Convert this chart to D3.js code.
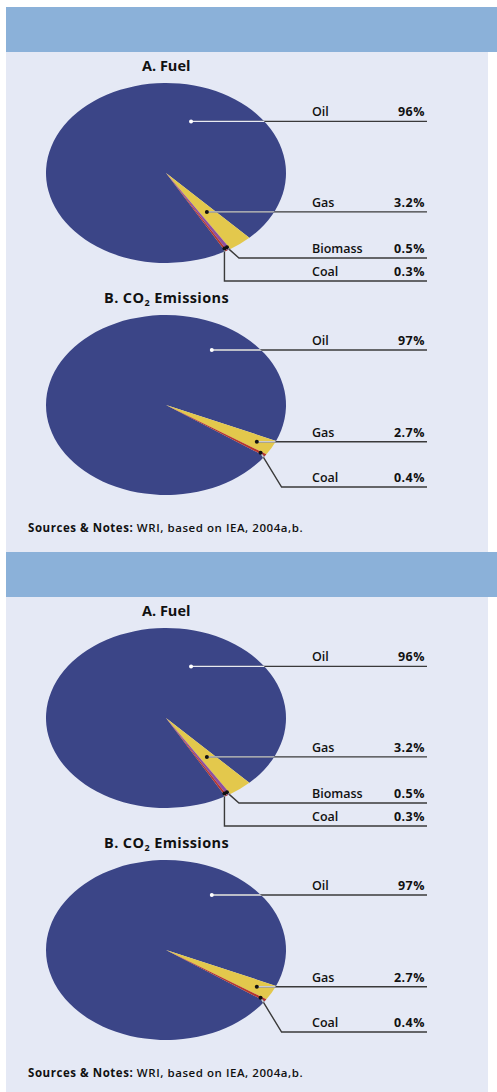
<!DOCTYPE html>
<html>
<head>
<meta charset="utf-8">
<script src="https://cdn.jsdelivr.net/npm/d3@7"></script>
<style>
  body { margin: 0; background: #fff; }
  svg { display: block; font-family: "Open Sans", "Noto Sans", sans-serif; }
</style>
</head>
<body>
<div id="chart"></div>
<script>
// data
const fuelLabels = ['Oil', 'Gas', 'Biomass', 'Coal'];
const fuelShares = [96, 3.2, 0.5, 0.3];
const fuelText = ['96%', '3.2%', '0.5%', '0.3%'];

const co2Labels = ['Oil', 'Gas', 'Coal'];
const co2Shares = [97, 2.7, 0.4];
const co2Text = ['97%', '2.7%', '0.4%'];

const sliceColors = { Oil: '#3b4587', Gas: '#e3c84c', Biomass: '#8e4f9e', Coal: '#b4352c' };

const W = 497, H = 1092;
const panelOffsets = [0, 545];
const deg = Math.PI / 180;

const svg = d3.select('#chart').append('svg')
    .attr('width', W)
    .attr('height', H);

const rx = 120, ry = 90;
const arc = d3.arc().innerRadius(0).outerRadius(rx);

// pie layouts (position / leader settings, not data)
const pies = [
    {
        id: 'a', cy: 173, gasStart: 136,
        labels: fuelLabels, shares: fuelShares, text: fuelText,
        anchors: { Oil: { angle: 20, k: 0.61 }, Gas: { k: 0.55 }, Biomass: { k: 0.97 }, Coal: { k: 0.97 } },
        rows: { Biomass: { y: 258, dx: 12 }, Coal: { y: 281, dx: 0 } }
    },
    {
        id: 'b', cy: 405, gasStart: 113.5,
        labels: co2Labels, shares: co2Shares, text: co2Text,
        anchors: { Oil: { angle: 32, k: 0.72 }, Gas: { k: 0.86 }, Coal: { k: 0.95 } },
        rows: { Coal: { y: 487, dx: 21 } }
    }
];
const cx = 166;
const labelX = 312, valueX = 425, lineEnd = 427;

function drawPanel(offset, pi) {
    const g = svg.append('g').attr('transform', `translate(0,${offset})`);

    g.append('rect').attr('x', 6).attr('y', 52).attr('width', 482).attr('height', 500).attr('fill', '#e5e9f5');
    g.append('rect').attr('x', 6).attr('y', 7).attr('width', 491).attr('height', 45).attr('fill', '#8bb1d9');

    g.append('text').attr('x', 142).attr('y', 71)
        .attr('font-size', 14.5).attr('font-weight', 700).attr('fill', '#111')
        .text('A. Fuel');

    const t2 = g.append('text').attr('x', 104).attr('y', 303)
        .attr('font-size', 14.5).attr('font-weight', 700).attr('fill', '#111')
        .attr('letter-spacing', 0.4);
    t2.append('tspan').text('B. CO');
    t2.append('tspan').attr('font-size', 9).attr('dy', 3).text('2');
    t2.append('tspan').attr('dy', -3).text(' Emissions');

    pies.forEach(p => {
        const total = d3.sum(p.shares);
        const oilSpan = p.shares[0] / total * 360;
        const start = (p.gasStart - oilSpan) * deg;
        const pie = d3.pie().sort(null).startAngle(start).endAngle(start + 2 * Math.PI);
        const slices = pie(p.shares).map((s, i) => Object.assign(s, { label: p.labels[i], txt: p.text[i] }));

        const clipId = `clip-${p.id}-${pi}`;
        g.append('clipPath').attr('id', clipId)
            .append('ellipse').attr('cx', cx).attr('cy', p.cy).attr('rx', rx).attr('ry', ry);

        g.append('g')
            .attr('transform', `translate(${cx},${p.cy}) scale(1,${ry / rx})`)
            .selectAll('path')
            .data(slices)
            .join('path')
            .attr('d', arc)
            .attr('fill', d => sliceColors[d.label]);

        slices.forEach(s => {
            const a = p.anchors[s.label];
            const ang = a.angle !== undefined ? a.angle * deg : (s.startAngle + s.endAngle) / 2;
            const ax = cx + a.k * rx * Math.sin(ang);
            const ay = p.cy - a.k * ry * Math.cos(ang);
            const row = p.rows[s.label];
            const pts = row ? [[ax, ay], [ax + row.dx, row.y], [lineEnd, row.y]] : [[ax, ay], [lineEnd, ay]];
            const lineY = row ? row.y : ay;
            const line = d3.line()(pts);

            g.append('path').attr('d', line).attr('fill', 'none')
                .attr('stroke', '#3a3a3a').attr('stroke-width', 1.4);
            g.append('path').attr('d', line).attr('fill', 'none')
                .attr('clip-path', `url(#${clipId})`)
                .attr('stroke', s.label === 'Oil' ? '#e8eaf2' : '#c9cbd3').attr('stroke-width', 1.4);
            g.append('circle').attr('cx', ax).attr('cy', ay).attr('r', 2)
                .attr('fill', s.label === 'Oil' ? '#fff' : '#111');

            g.append('text').attr('x', labelX).attr('y', lineY - 5)
                .attr('font-size', 12.5).attr('font-weight', 600).attr('fill', '#111')
                .text(s.label);
            g.append('text').attr('x', valueX).attr('y', lineY - 5)
                .attr('text-anchor', 'end')
                .attr('font-size', 12.5).attr('font-weight', 700).attr('fill', '#111')
                .attr('letter-spacing', 0.5)
                .text(s.txt);
        });
    });

    const src = g.append('text').attr('x', 28).attr('y', 532)
        .attr('font-size', 11.5).attr('fill', '#111')
        .attr('letter-spacing', 0.55);
    src.append('tspan').attr('font-weight', 700).text('Sources & Notes: ');
    src.append('tspan').attr('font-weight', 600).text('WRI, based on IEA, 2004a,b.');
}

panelOffsets.forEach((o, i) => drawPanel(o, i));
</script>
</body>
</html>
